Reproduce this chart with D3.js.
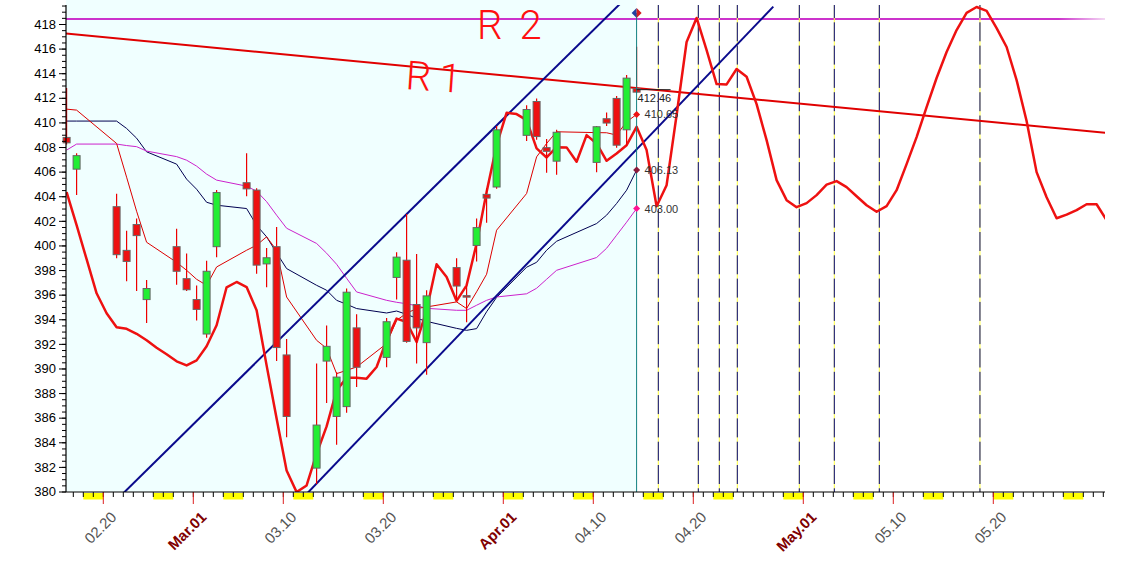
<!DOCTYPE html>
<html><head><meta charset="utf-8">
<script src="https://cdn.jsdelivr.net/npm/d3@7"></script>
<style>body{margin:0;background:#fff;} svg{display:block;}</style>
</head><body><svg id="c" width="1125" height="571"></svg>
<script>
// ---------- DATA ----------
const tradingDays = ["2022-02-17","2022-02-18","2022-02-22","2022-02-23","2022-02-24","2022-02-25","2022-02-28",
 "2022-03-01","2022-03-02","2022-03-03","2022-03-04","2022-03-07","2022-03-08","2022-03-09","2022-03-10","2022-03-11",
 "2022-03-14","2022-03-15","2022-03-16","2022-03-17","2022-03-18","2022-03-21","2022-03-22","2022-03-23","2022-03-24",
 "2022-03-25","2022-03-28","2022-03-29","2022-03-30","2022-03-31","2022-04-01","2022-04-04","2022-04-05","2022-04-06",
 "2022-04-07","2022-04-11","2022-04-12","2022-04-13","2022-04-14","2022-04-15"];
const opens  = [408.78,406.2,403.15,399.6,401.7,395.6,399.9,397.3,395.6,392.8,399.9,405.1,404.5,398.5,399.9,391.1,381.9,390.6,386.1,386.9,393.3,390.9,397.4,398.8,395.2,392.1,398.2,395.92,400.0,404.15,404.75,408.95,411.7,407.95,406.85,406.75,410.3,411.95,409.4,412.75];
const highs  = [412.8,407.5,404.2,401.2,402.2,397.2,401.35,399.35,396.75,398.75,404.5,407.5,404.65,399.8,401.5,392.4,390.4,393.5,389.7,396.5,394.4,394.1,399.45,402.55,399.3,396.35,398.95,396.75,402.2,404.65,409.7,411.4,411.95,408.65,409.4,409.7,410.8,412.15,413.85,416.15];
const lows   = [408.2,404.1,398.95,397.1,396.3,393.7,396.8,396.3,393.9,392.5,399.05,404.0,397.7,396.6,390.6,384.4,380.6,387.2,383.8,386.4,388.5,390.1,395.6,392.1,390.4,389.5,395.6,393.75,398.7,401.85,404.6,408.5,408.6,405.9,405.75,405.95,409.7,407.95,408.1,412.4];
const closes = [408.34,407.3,399.25,398.7,400.8,396.5,397.9,396.4,394.8,397.9,404.3,404.6,398.4,399.0,391.7,386.1,385.4,391.8,389.3,396.2,390.1,393.8,399.05,392.2,393.3,395.9,396.7,395.88,401.45,403.85,409.4,411.05,408.85,407.65,409.2,409.65,409.95,408.15,413.6,412.46];

const maNavy    = [410.11,410.11,410.11,409.51,408.72,407.61,406.61,405.39,404.57,403.51,403.27,403.0,401.64,400.7,399.4,398.12,396.76,396.36,395.54,395.22,394.87,394.51,394.67,394.4,394.08,393.83,393.26,393.1,393.24,394.61,395.78,398.23,398.63,399.61,400.34,401.78,402.46,403.41,404.49,406.13];
const maMagenta = [407.75,408.24,408.24,408.12,408.03,407.67,407.22,406.93,406.45,405.8,405.31,404.82,404.41,403.56,402.46,401.4,400.16,399.37,398.47,397.33,396.22,395.54,395.38,395.26,395.1,394.89,394.73,394.73,395.14,395.54,395.81,396.07,396.52,397.25,397.98,399.02,399.77,400.83,401.89,403.0];
const maRed     = [411.08,411.0,408.29,405.55,402.78,400.26,398.63,397.98,397.25,396.76,398.25,399.61,400.02,400.7,399.61,395.81,392.29,391.64,389.58,389.85,390.12,392.02,393.92,394.49,394.87,395.0,395.41,394.87,396.23,397.66,401.24,404.22,407.2,408.29,409.24,409.17,409.16,408.97,410.05,410.65];

// daily projection curve (thick red), one value per calendar day from projStart
const projStart = "2022-02-17";
const projection = [404.33,401.65,398.88,396.11,394.49,393.35,393.22,392.82,392.29,391.68,
 391.15,390.58,390.25,390.66,391.80,393.51,396.60,397.03,396.62,394.73,
 390.25,385.94,381.71,379.95,380.49,383.07,385.29,388.22,389.24,389.24,
 389.17,390.12,392.29,394.05,393.78,392.15,394.73,398.47,397.44,395.49,
 396.76,400.16,404.35,408.15,410.78,410.68,410.19,407.89,407.15,407.99,
 407.97,406.80,408.97,408.29,406.88,407.48,408.15,409.64,407.75,403.19,
 404.90,410.60,416.54,418.49,415.88,413.12,413.09,414.34,413.71,411.49,
 408.56,405.31,403.68,403.11,403.44,404.09,404.94,405.23,404.74,404.00,
 403.27,402.74,403.19,404.49,406.61,408.81,411.25,413.61,415.72,417.51,
 418.90,419.38,419.06,417.67,416.13,413.44,410.11,405.96,403.92,402.21,
 402.50,402.87,403.35,403.35,402.05];

const upperChannel = [["2022-02-22",379.86],["2022-04-13",419.9]];
const lowerChannel = [["2022-03-12",379.52],["2022-04-28",419.41]];
const r1Line = [["2022-02-16",417.25],["2022-06-01",409.09]];
const r2Level = 418.41;
const timeZones = ["2022-04-16T12:00","2022-04-20T12:00","2022-04-22T14:24","2022-04-24T09:36",
 "2022-04-30T14:24","2022-05-04T02:24","2022-05-08T14:24","2022-05-18T16:00"];

const tickDates  = ["2022-02-20","2022-03-01","2022-03-10","2022-03-20","2022-04-01","2022-04-10","2022-04-20","2022-05-01","2022-05-10","2022-05-20"];
const tickLabels = ["02.20","Mar.01","03.10","03.20","Apr.01","04.10","04.20","May.01","05.10","05.20"];
const monthTick  = [false,true,false,false,true,false,false,true,false,false];
const yTicks = d3.range(380, 419, 2);
const yMinor = d3.range(380, 419.6, 0.5);

const lastPrice = 412.46;
const markerValues = [410.65, 406.13, 403.00];
const markerLabels = ["410.65","406.13","403.00"];
const markerColors = ["#ee1111","#8b1a3a","#ff1493"];
const topMarkerValue = 418.9;

// ---------- CHART ----------
const parseDay = d3.utcParse("%Y-%m-%d");
const parseTime = d3.utcParse("%Y-%m-%dT%H:%M");
const L = 66, R = 1105, T = 5, B = 492;
const svg = d3.select("#c");
const x = d3.scaleUtc().domain([parseDay("2022-02-16"), parseDay("2022-06-01")]).range([63.3, 1113.3]);
const y = d3.scaleLinear().domain([380, 418]).range([491.5, 24]);
const dayW = x(parseDay("2022-02-17")) - x(parseDay("2022-02-16"));
const barX = d => x(d) - 0.67 * dayW;

const days = tradingDays.map(parseDay);
const lastDay = days[days.length - 1];

const defs = svg.append("defs");
defs.append("clipPath").attr("id","plot").append("rect").attr("x",L).attr("y",T).attr("width",R-L).attr("height",B-T);
const grad = defs.append("linearGradient").attr("id","r2g").attr("gradientUnits","userSpaceOnUse")
  .attr("x1",L).attr("x2",R).attr("y1",0).attr("y2",0);
grad.append("stop").attr("offset",0).attr("stop-color","#cc33cc");
grad.append("stop").attr("offset",0.955).attr("stop-color","#cc33cc");
grad.append("stop").attr("offset",1).attr("stop-color","#f4d8f4");

// background of history area
svg.append("rect").attr("x",L).attr("y",0).attr("width",barX(lastDay)-L).attr("height",B)
  .attr("fill","#f0ffff");

const g = svg.append("g").attr("clip-path","url(#plot)");

// R2 level
g.append("line").attr("x1",L).attr("x2",R).attr("y1",y(r2Level)).attr("y2",y(r2Level))
  .attr("stroke","url(#r2g)").attr("stroke-width",2);

// time-zone dashed verticals
timeZones.map(parseTime).forEach(d => {
  g.append("line").attr("x1",x(d)).attr("x2",x(d)).attr("y1",T).attr("y2",B)
   .attr("stroke","#ffff40").attr("stroke-width",1);
  g.append("line").attr("x1",x(d)).attr("x2",x(d)).attr("y1",T).attr("y2",B)
   .attr("stroke","#000080").attr("stroke-width",1).attr("stroke-dasharray","19,4.3").attr("stroke-dashoffset",6);
});

// moving averages
const maLine = d3.line().x((v,i)=>barX(days[i])).y(v=>y(v));
g.append("path").attr("d",maLine(maNavy)).attr("fill","none").attr("stroke","#000050").attr("stroke-width",1);
g.append("path").attr("d",maLine(maMagenta)).attr("fill","none").attr("stroke","#cc22cc").attr("stroke-width",1);
g.append("path").attr("d",maLine(maRed)).attr("fill","none").attr("stroke","#dd0000").attr("stroke-width",1);

// candles
const cg = svg.append("g");
days.forEach((d,i) => {
  const cx = barX(d);
  cg.append("line").attr("x1",cx).attr("x2",cx).attr("y1",y(highs[i])).attr("y2",y(lows[i]))
    .attr("stroke","#ee0000").attr("stroke-width",1.2);
  const top = y(Math.max(opens[i],closes[i])), bot = y(Math.min(opens[i],closes[i]));
  cg.append("rect").attr("x",cx-3.5).attr("y",top).attr("width",7).attr("height",Math.max(bot-top,1.5))
    .attr("fill", closes[i] >= opens[i] ? "#22ee33" : "#ee1111")
    .attr("stroke","#666").attr("stroke-width",1);
});

// R1 line
g.append("line").attr("x1",x(parseDay(r1Line[0][0]))).attr("y1",y(r1Line[0][1]))
  .attr("x2",x(parseDay(r1Line[1][0]))).attr("y2",y(r1Line[1][1]))
  .attr("stroke","#e00000").attr("stroke-width",2);

// channel lines
[upperChannel, lowerChannel].forEach(c => {
  g.append("line").attr("x1",x(parseDay(c[0][0]))).attr("y1",y(c[0][1]))
   .attr("x2",x(parseDay(c[1][0]))).attr("y2",y(c[1][1]))
   .attr("stroke","#0a0a8c").attr("stroke-width",2);
});

// projection thick curve
const p0 = parseDay(projStart);
const projLine = d3.line().x((v,i)=>barX(d3.utcDay.offset(p0,i))).y(v=>y(v));
g.append("path").attr("d",projLine(projection)).attr("fill","none").attr("stroke","#ee1111")
  .attr("stroke-width",2.5).attr("stroke-linejoin","round");

// cursor line at last bar
const lx = barX(lastDay);
svg.append("line").attr("x1",lx).attr("x2",lx).attr("y1",y(topMarkerValue)).attr("y2",B)
  .attr("stroke","#108080").attr("stroke-width",1);

// last price tag
svg.append("line").attr("x1",lx).attr("x2",lx+34).attr("y1",y(lastPrice)-2.5).attr("y2",y(lastPrice)-2.5)
  .attr("stroke","#222").attr("stroke-width",1);
svg.append("text").attr("x",lx+1).attr("y",y(lastPrice)+10).text(lastPrice.toFixed(2))
  .attr("font-family","Liberation Sans, Arial").attr("font-size",11).attr("fill","#222");

// MA end markers
markerValues.forEach((v,i)=>{
  const my = y(v);
  svg.append("path").attr("d",`M${lx},${my-3.5}L${lx+3.5},${my}L${lx},${my+3.5}L${lx-3.5},${my}Z`).attr("fill",markerColors[i]);
  svg.append("text").attr("x",lx+8).attr("y",my+4).text(markerLabels[i])
    .attr("font-family","Liberation Sans, Arial").attr("font-size",11).attr("fill","#333");
});
// top marker
const ty = y(topMarkerValue);
svg.append("path").attr("d",`M${lx},${ty-5}L${lx},${ty+5}L${lx-5},${ty}Z`).attr("fill","#2040a0");
svg.append("path").attr("d",`M${lx},${ty-5}L${lx},${ty+5}L${lx+5},${ty}Z`).attr("fill","#d02020");

// R1 / R2 handwriting
const handFont = "Roboto, 'DejaVu Sans', sans-serif";
svg.append("text").attr("x",477).attr("y",39).text("R2").attr("font-family",handFont).attr("font-weight",300)
  .attr("font-size",40).attr("letter-spacing",17).attr("fill","#ff1010");
svg.append("text").attr("transform","translate(405,89) rotate(4)").text("R1").attr("font-family",handFont).attr("font-weight",300)
  .attr("font-size",40).attr("letter-spacing",8).attr("fill","#ff1010");

// ---------- AXES ----------
// weekend blocks
d3.utcSaturday.range(parseDay("2022-02-13"), parseDay("2022-06-01")).forEach(s=>{
  const x0 = Math.max(L, x(d3.utcDay.offset(s,-1))), x1 = Math.min(R, x(d3.utcDay.offset(s,1)));
  if (x1 > x0) svg.append("rect").attr("x",x0).attr("y",493).attr("width",x1-x0).attr("height",6.5).attr("fill","#ffff00");
});
// day ticks
d3.utcDay.range(parseDay("2022-02-17"), parseDay("2022-06-01")).forEach(d=>{
  svg.append("line").attr("x1",x(d)).attr("x2",x(d)).attr("y1",B).attr("y2",B+5).attr("stroke","#000").attr("stroke-width",1);
});
tickDates.map(parseDay).forEach((d,i)=>{
  svg.append("line").attr("x1",x(d)).attr("x2",x(d)).attr("y1",B).attr("y2",B+12).attr("stroke","#dd2020").attr("stroke-width",1);
  svg.append("text").attr("transform",`translate(${x(d)+14},${518}) rotate(-45)`).attr("text-anchor","end")
    .text(tickLabels[i]).attr("font-family","Liberation Sans, Arial").attr("font-size",15)
    .attr("font-weight", monthTick[i] ? "bold" : "normal")
    .attr("fill", monthTick[i] ? "#800000" : "#555");
});
svg.append("line").attr("x1",L).attr("x2",R).attr("y1",B).attr("y2",B).attr("stroke","#000").attr("stroke-width",1.2);

// y axis
const ya = svg.append("g").attr("transform",`translate(${L},0)`);
ya.call(d3.axisLeft(y).tickValues(yMinor).tickSize(4).tickFormat(""));
ya.call(g2=>g2.select(".domain").remove());
const yb = svg.append("g").attr("transform",`translate(${L},0)`);
yb.call(d3.axisLeft(y).tickValues(yTicks).tickSize(7).tickPadding(3).tickFormat(d3.format("d")));
yb.call(g2=>g2.select(".domain").remove());
yb.selectAll("text").attr("font-family","Liberation Sans, Arial").attr("font-size",13).attr("fill","#000");
svg.append("line").attr("x1",L).attr("x2",L).attr("y1",T).attr("y2",B).attr("stroke","#000").attr("stroke-width",1.2);
</script></body></html>
